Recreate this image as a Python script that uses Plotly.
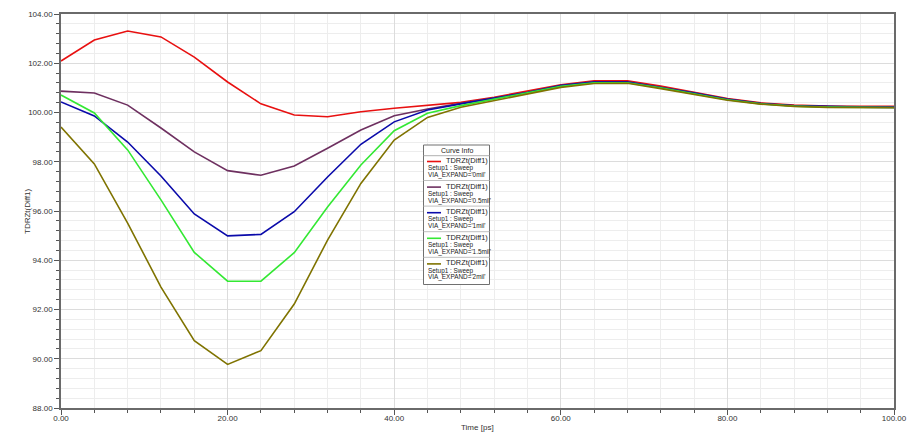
import plotly.graph_objects as go

time_ps = [0, 4, 8, 12, 16, 20, 24, 28, 32, 36, 40, 44, 48, 52, 56, 60, 64, 68, 72, 76, 80, 84, 88, 92, 96, 100]

tdr_0mil = [102.09, 102.94, 103.31, 103.07, 102.25, 101.24, 100.35, 99.90, 99.83, 100.03, 100.17, 100.30, 100.41,
            100.62, 100.86, 101.13, 101.29, 101.29, 101.07, 100.82, 100.57, 100.39, 100.30, 100.26, 100.25, 100.25]
tdr_05mil = [100.87, 100.79, 100.30, 99.37, 98.40, 97.64, 97.45, 97.83, 98.55, 99.29, 99.87, 100.14, 100.37,
             100.58, 100.82, 101.10, 101.25, 101.25, 101.03, 100.80, 100.55, 100.37, 100.28, 100.24, 100.23, 100.22]
tdr_1mil = [100.43, 99.86, 98.80, 97.42, 95.88, 94.99, 95.05, 95.97, 97.38, 98.71, 99.62, 100.10, 100.35,
            100.57, 100.81, 101.09, 101.24, 101.24, 101.02, 100.79, 100.54, 100.36, 100.27, 100.23, 100.22, 100.21]
tdr_15mil = [100.71, 99.98, 98.48, 96.45, 94.32, 93.15, 93.15, 94.31, 96.16, 97.87, 99.26, 99.97, 100.28,
             100.53, 100.78, 101.06, 101.21, 101.21, 101.00, 100.76, 100.52, 100.35, 100.26, 100.22, 100.21, 100.20]
tdr_2mil = [99.41, 97.91, 95.51, 92.91, 90.73, 89.77, 90.33, 92.22, 94.82, 97.12, 98.88, 99.80, 100.21,
            100.48, 100.75, 101.02, 101.18, 101.19, 100.97, 100.73, 100.50, 100.34, 100.25, 100.21, 100.20, 100.19]

series_values = [tdr_0mil, tdr_05mil, tdr_1mil, tdr_15mil, tdr_2mil]
sweep_labels = ["0mil", "0.5mil", "1mil", "1.5mil", "2mil"]
curve_name = "TDRZt(Diff1)"
setup_label = "Setup1 : Sweep"
colors = ["#E81010", "#6E3060", "#0A0AAA", "#33E833", "#7F7300"]

x_ticks = [0, 20, 40, 60, 80, 100]
y_ticks = [88, 90, 92, 94, 96, 98, 100, 102, 104]
x_title = "Time [ps]"
y_title = "TDRZt(Diff1)"

W, H = 912, 446
L, R, T, B = 61, 894, 14, 408

fig = go.Figure()
for vals, lab, col in zip(series_values, sweep_labels, colors):
    fig.add_trace(go.Scatter(x=time_ps, y=vals, mode="lines", name=f"{curve_name} {lab}",
                             line=dict(color=col, width=1.6), showlegend=False))

font = "Liberation Sans, Arial, sans-serif"

def px(X):
    return (X - L) / (R - L)

def py(Y):
    return (B - Y) / (B - T)

shapes = []
annotations = []
# axis titles
annotations.append(dict(text=x_title, xref="paper", yref="paper", x=px(477), y=py(427),
                        showarrow=False, xanchor="center", yanchor="middle",
                        font=dict(family=font, size=8, color="#333")))
annotations.append(dict(text=y_title, xref="paper", yref="paper", x=px(27), y=py(211), textangle=-90,
                        showarrow=False, xanchor="center", yanchor="middle",
                        font=dict(family=font, size=8, color="#333")))
# legend box
bx0, bx1, by0, by1 = 423.5, 489.5, 145, 284.5
shapes.append(dict(type="rect", xref="paper", yref="paper", x0=px(bx0), x1=px(bx1), y0=py(by1), y1=py(by0),
                   fillcolor="white", line=dict(color="#707070", width=1), layer="above"))
shapes.append(dict(type="line", xref="paper", yref="paper", x0=px(bx0), x1=px(bx1), y0=py(155.7), y1=py(155.7),
                   line=dict(color="#b0b0b0", width=1), layer="above"))
annotations.append(dict(text="Curve Info", xref="paper", yref="paper", x=px((bx0 + bx1) / 2), y=py(150.5),
                        showarrow=False, xanchor="center", yanchor="middle", borderpad=0,
                        font=dict(family=font, size=7, color="#222")))
pitch = 25.6
for i, (lab, col) in enumerate(zip(sweep_labels, colors)):
    sy = 161.5 + i * pitch
    shapes.append(dict(type="line", xref="paper", yref="paper", x0=px(427), x1=px(441), y0=py(sy), y1=py(sy),
                       line=dict(color=col, width=1.6), layer="above"))
    annotations.append(dict(text=curve_name, xref="paper", yref="paper", x=px(444.5), y=py(sy - 1.0),
                            showarrow=False, xanchor="left", yanchor="middle", borderpad=0,
                            font=dict(family=font, size=7.4, color="#222")))
    annotations.append(dict(text=setup_label, xref="paper", yref="paper", x=px(426.5), y=py(sy + 6.7),
                            showarrow=False, xanchor="left", yanchor="middle", borderpad=0,
                            font=dict(family=font, size=6.4, color="#222")))
    annotations.append(dict(text=f"VIA_EXPAND='{lab}'", xref="paper", yref="paper", x=px(426.5), y=py(sy + 13.5),
                            showarrow=False, xanchor="left", yanchor="middle", borderpad=0,
                            font=dict(family=font, size=6.4, color="#222")))
    if i < len(sweep_labels) - 1:
        sep = sy + 19
        shapes.append(dict(type="line", xref="paper", yref="paper", x0=px(bx0), x1=px(bx1), y0=py(sep), y1=py(sep),
                           line=dict(color="#c0c0c0", width=1), layer="above"))

fig.update_layout(
    width=W, height=H,
    margin=dict(l=L, r=W - R, t=T, b=H - B, autoexpand=False),
    paper_bgcolor="white", plot_bgcolor="white",
    font=dict(family=font, size=8, color="#333"),
    shapes=shapes, annotations=annotations,
    xaxis=dict(range=[0, 100], tickvals=x_ticks, ticktext=[f"{v:.2f}" for v in x_ticks], automargin=False,
               showline=True, linecolor="#6a6a6a", linewidth=1.5, mirror=True,
               ticks="outside", ticklen=5, tickcolor="#555", tickwidth=1, ticklabelstandoff=-3,
               showgrid=True, gridcolor="#dcdcdc", gridwidth=1, zeroline=False,
               minor=dict(dtick=4, ticks="outside", ticklen=3, tickcolor="#555", showgrid=True,
                          gridcolor="#ededed", gridwidth=1),
               tickfont=dict(size=8, color="#333")),
    yaxis=dict(range=[88, 104], tickvals=y_ticks, ticktext=[f"{v:.2f}" for v in y_ticks], automargin=False,
               showline=True, linecolor="#6a6a6a", linewidth=1.5, mirror=True,
               ticks="outside", ticklen=5, tickcolor="#555", tickwidth=1,
               showgrid=True, gridcolor="#dcdcdc", gridwidth=1, zeroline=False,
               minor=dict(dtick=0.4, ticks="outside", ticklen=3, tickcolor="#555", showgrid=True,
                          gridcolor="#ededed", gridwidth=1),
               tickfont=dict(size=8, color="#333")),
)

fig.write_html("out.html", config={"displayModeBar": False},
               post_script="document.body.style.margin='0';document.body.style.overflow='hidden';")
